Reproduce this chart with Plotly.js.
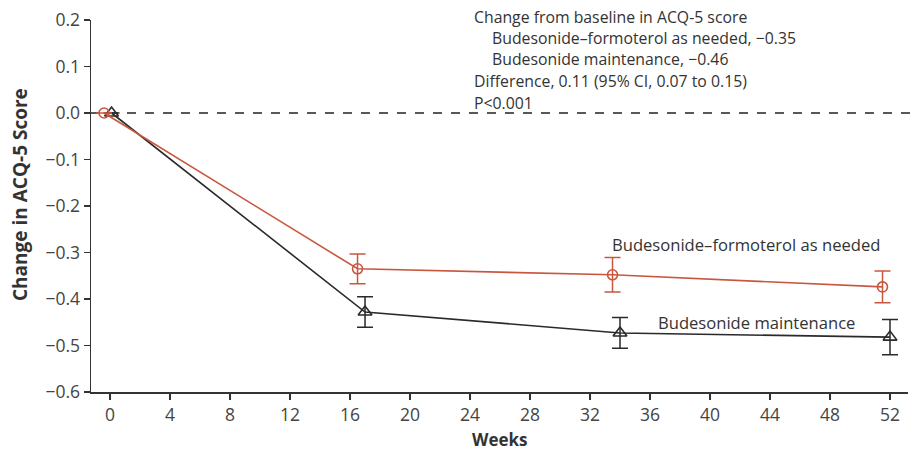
<!DOCTYPE html>
<html>
<head>
<meta charset="utf-8">
<script src="https://cdn.plot.ly/plotly-3.0.1.min.js"></script>
<style>html,body{margin:0;padding:0;background:#fff;}#chart{width:911px;height:456px;}</style>
</head>
<body>
<div id="chart"></div>
<script>
// Data
var asNeededWeeks = [-0.4, 16.5, 33.5, 51.5];
var asNeededValues = [0.0, -0.335, -0.348, -0.374];
var asNeededErr = [0, 0.032, 0.037, 0.034];

var maintWeeks = [0.1, 17.0, 34.0, 52.0];
var maintValues = [0.0, -0.428, -0.473, -0.482];
var maintErr = [0, 0.033, 0.033, 0.038];

var xTicks = [0, 4, 8, 12, 16, 20, 24, 28, 32, 36, 40, 44, 48, 52];
var yTicks = [0.2, 0.1, 0.0, -0.1, -0.2, -0.3, -0.4, -0.5, -0.6];
var yTickLabels = ["0.2", "0.1", "0.0", "\u22120.1", "\u22120.2", "\u22120.3", "\u22120.4", "\u22120.5", "\u22120.6"];

var summaryLines = [
  "Change from baseline in ACQ-5 score",
  "Budesonide\u2013formoterol as needed, \u22120.35",
  "Budesonide maintenance, \u22120.46",
  "Difference, 0.11 (95% CI, 0.07 to 0.15)",
  "P<0.001"
];
var summaryIndent = [false, true, true, false, false];
var labelAsNeeded = "Budesonide\u2013formoterol as needed";
var labelMaint = "Budesonide maintenance";
var xTitle = "Weeks";
var yTitle = "Change in ACQ-5 Score";

var FONT = "Open Sans, Noto Sans, sans-serif";
var red = "#c9573f";
var dark = "#2a2a2a";

var traces = [
  {
    x: maintWeeks, y: maintValues, type: "scatter", mode: "lines+markers",
    line: {color: dark, width: 1.6},
    marker: {symbol: "triangle-up-open", size: 12, color: dark, line: {width: 1.6}},
    error_y: {type: "data", array: maintErr, visible: true, color: dark, thickness: 1.5, width: 8},
    hoverinfo: "none", showlegend: false, cliponaxis: false
  },
  {
    x: asNeededWeeks, y: asNeededValues, type: "scatter", mode: "lines+markers",
    line: {color: red, width: 1.6},
    marker: {symbol: "circle-open", size: 10, color: red, line: {width: 1.6}},
    error_y: {type: "data", array: asNeededErr, visible: true, color: red, thickness: 1.5, width: 8},
    hoverinfo: "none", showlegend: false, cliponaxis: false
  }
];

var annotations = [];
var lineY = [1.008, 0.952, 0.895, 0.836, 0.777];
summaryLines.forEach(function (t, i) {
  annotations.push({
    xref: "x", yref: "paper", x: summaryIndent[i] ? 25.33 : 24.1, y: lineY[i],
    xanchor: "left", yanchor: "middle",
    text: t, showarrow: false, font: {family: FONT, size: 15.8, color: "#333"}
  });
});
annotations.push({
  xref: "x", yref: "paper", x: 42.4, y: (392 - 244) / 372, xanchor: "center", yanchor: "middle",
  text: labelAsNeeded, showarrow: false, font: {family: FONT, size: 16.6, color: "#333"}
});
annotations.push({
  xref: "x", yref: "paper", x: 43.07, y: (392 - 322) / 372, xanchor: "center", yanchor: "middle",
  text: labelMaint, showarrow: false, font: {family: FONT, size: 16.6, color: "#333"}
});
annotations.push({
  xref: "paper", yref: "paper", x: 0.5, y: (392 - 440) / 372, xanchor: "center", yanchor: "middle",
  text: "<b>" + xTitle + "</b>", showarrow: false, font: {family: FONT, size: 17, color: "#333"}
});
annotations.push({
  xref: "paper", yref: "paper", x: (20 - 91) / 817, y: (392 - 195) / 372, xanchor: "center", yanchor: "middle",
  textangle: -90,
  text: "<b>" + yTitle + "</b>", showarrow: false, font: {family: FONT, size: 19, color: "#333"}
});

var layout = {
  width: 911, height: 456,
  margin: {l: 91, r: 3, t: 20, b: 64},
  paper_bgcolor: "#fff", plot_bgcolor: "#fff",
  showlegend: false,
  font: {family: FONT, size: 17.5, color: "#444"},
  xaxis: {
    range: [-1.27, 53.2], tickvals: xTicks, ticktext: xTicks.map(String),
    showgrid: false, zeroline: false, showline: true, linecolor: "#333", linewidth: 1.5,
    ticks: "outside", ticklen: 6, tickwidth: 1.5, tickcolor: "#333",
    tickfont: {family: FONT, size: 17.5, color: "#444"}
  },
  yaxis: {
    range: [-0.6, 0.2], tickvals: yTicks, ticktext: yTickLabels,
    showgrid: false, zeroline: false, showline: true, linecolor: "#333", linewidth: 1.5,
    ticks: "outside", ticklen: 6, tickwidth: 1.5, tickcolor: "#333",
    tickfont: {family: FONT, size: 17.5, color: "#444"}
  },
  shapes: [{
    type: "line", xref: "paper", yref: "y", x0: 0, x1: 1.004, y0: 0, y1: 0,
    line: {color: "#222", width: 1.4, dash: "dash"}, layer: "below"
  }],
  annotations: annotations
};

Plotly.newPlot("chart", traces, layout, {displayModeBar: false, staticPlot: true});
</script>
</body>
</html>
